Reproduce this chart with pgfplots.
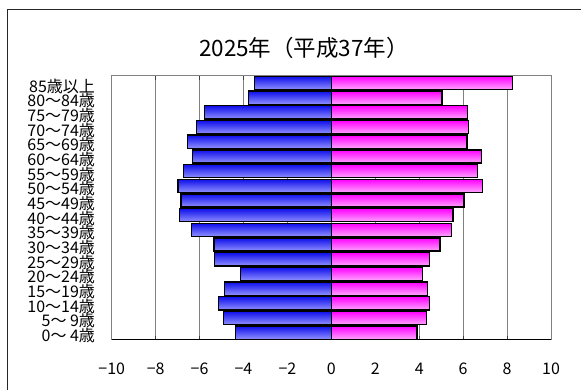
\documentclass[border=0pt]{standalone}
\usepackage{fontspec}
\usepackage{pgfplots}
\usepackage{pgfplotstable}
\pgfplotsset{compat=1.18}
\newfontfamily\jp{Noto Sans CJK JP}

\definecolor{mtop}{RGB}{15,15,235}
\definecolor{mbot}{RGB}{145,145,255}
\definecolor{ftop}{RGB}{255,0,255}
\definecolor{fbot}{RGB}{255,165,255}
\definecolor{gridgray}{RGB}{128,128,128}

% population share (%) by age group, 2025: male (negative) and female
\pgfplotstableread{
idx  male   female
0   -4.37   3.90
1   -4.90   4.33
2   -5.13   4.48
3   -4.86   4.39
4   -4.13   4.14
5   -5.33   4.46
6   -5.34   4.95
7   -6.37   5.48
8   -6.90   5.53
9   -6.84   6.03
10  -6.98   6.89
11  -6.72   6.65
12  -6.31   6.83
13  -6.54   6.18
14  -6.15   6.25
15  -5.78   6.19
16  -3.77   5.04
17  -3.49   8.26
}\pyramid

\begin{document}
\begin{tikzpicture}[x=1pt,y=1pt]
\useasboundingbox (0,0) rectangle (581,390);
\fill[white] (0,0) rectangle (581,390);
\draw[line width=1pt, black!85] (7.5,-5) -- (7.5,380.5) -- (590,380.5);
\node at (304,342) {\jp\fontsize{22.5}{22.5}\selectfont 2025年（平成37年）};
\begin{axis}[
  at={(111.7pt,50pt)}, anchor=south west,
  scale only axis, width=439.3pt, height=264.3pt,
  xbar, bar width=0.9, bar shift=0pt,
  xmin=-10, xmax=10, ymin=-0.5, ymax=17.5,
  xtick={-10,-8,...,10},
  xticklabels={−10,−8,−6,−4,−2,0,2,4,6,8,10},
  ytick={0,...,17},
  yticklabels={0～ 4歳,5～ 9歳,10～14歳,15～19歳,20～24歳,25～29歳,30～34歳,35～39歳,40～44歳,45～49歳,50～54歳,55～59歳,60～64歳,65～69歳,70～74歳,75～79歳,80～84歳,85歳以上},
  tick align=inside,
  major tick length=4pt,
  ytick style={draw=none},
  xtick style={black!75, line width=1pt},
  xmajorgrids,
  grid style={gridgray, line width=1pt},
  axis line style={gridgray, line width=1pt},
  ticklabel style={font=\jp\fontsize{16}{16}\selectfont, inner sep=0pt},
  yticklabel style={anchor=base east, xshift=-16.5pt, yshift=-9pt},
  xticklabel style={anchor=base, yshift=-35pt},
]
% one plot per age group so that each bar gets its own vertical shading
\pgfplotsinvokeforeach{0,...,17}{
  \addplot[draw=none, top color=mtop, bottom color=mbot,
    restrict y to domain=#1:#1]
    table[x=male, y=idx] {\pyramid};
  \addplot[draw=none, top color=ftop, bottom color=fbot,
    restrict y to domain=#1:#1]
    table[x=female, y=idx] {\pyramid};
}
% black outline of every bar, each stroked on its own
\pgfplotsinvokeforeach{0,...,17}{
  \addplot[draw=black, fill=none, line width=1.4pt,
    restrict y to domain=#1:#1]
    table[x=male, y=idx] {\pyramid};
  \addplot[draw=black, fill=none, line width=1.4pt,
    restrict y to domain=#1:#1]
    table[x=female, y=idx] {\pyramid};
}
\draw[black, line width=1pt] (rel axis cs:0,0) -- (rel axis cs:1,0);
\end{axis}
\end{tikzpicture}
\end{document}
